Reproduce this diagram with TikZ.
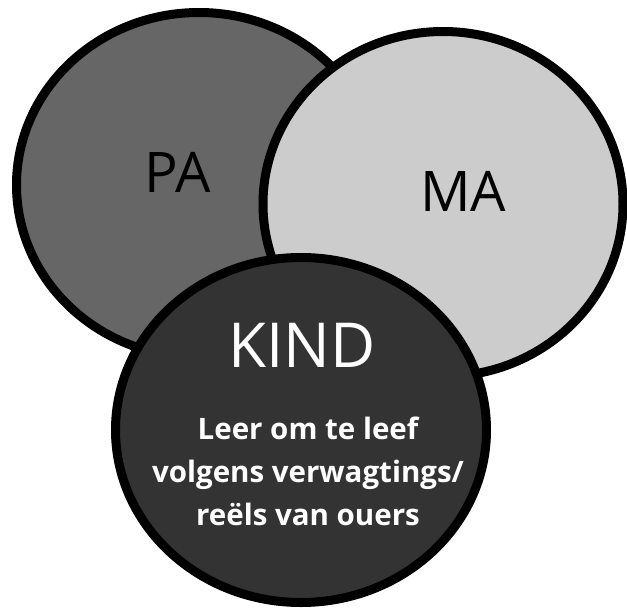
\documentclass[tikz,border=0pt]{standalone}
\usepackage{fontspec}
\setmainfont{Open Sans}
\definecolor{pagray}{HTML}{666666}
\definecolor{magray}{HTML}{CCCCCC}
\definecolor{kindgray}{HTML}{333333}
\begin{document}
\begin{tikzpicture}[x=1pt,y=-1pt,
  circ/.style={draw=black, line width=9pt},
  biglabel/.style={font=\fontsize{56}{60}\selectfont, text=black, inner sep=0pt},
  kindlabel/.style={font=\fontsize{62}{66}\selectfont, text=white, inner sep=0pt},
  bodytext/.style={font=\bfseries\fontsize{29.5}{43}\selectfont, text=white, align=center, inner sep=0pt}]
\useasboundingbox (0,0) rectangle (627,608);
\draw[circ, fill=pagray] (199,185) ellipse [x radius=182.5, y radius=172.5];
\draw[circ, fill=magray] (443,204) ellipse [x radius=180, y radius=172.5];
\draw[circ, fill=kindgray] (301,430) ellipse [x radius=185.5, y radius=172.5];
\node[biglabel] (pa) at (178,172) {PA};
\node[biglabel] (ma) at (463,191) {MA};
\node[kindlabel] (kind) at (302,345) {KIND};
\node[bodytext] (body) at (308,471) {Leer om te leef\\volgens verwagtings/\\reëls van ouers};
\end{tikzpicture}
\end{document}
